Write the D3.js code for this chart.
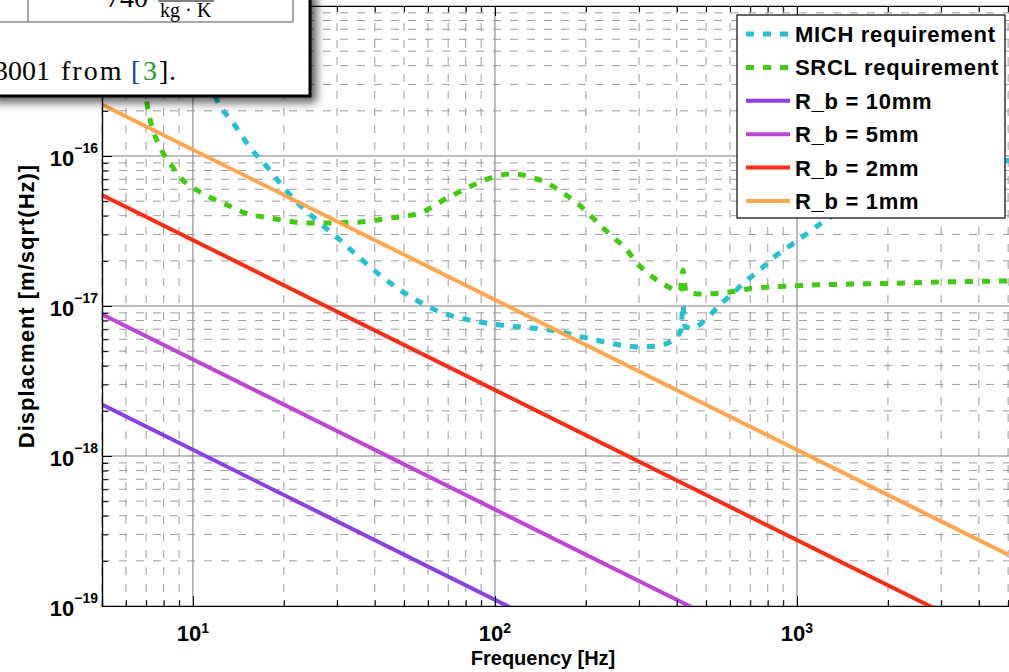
<!DOCTYPE html>
<html>
<head>
<meta charset="utf-8">
<script src="https://cdn.jsdelivr.net/npm/d3@7"></script>
<style>
	body { margin: 0; background: #fff; }
	svg { display: block; font-family: "Liberation Sans", Arial, sans-serif; }
</style>
</head>
<body>
<svg id="chart" width="1009" height="672"></svg>
<script>

// MICH requirement (Hz, m/sqrt(Hz))
var michFreq = [9.41, 12.0, 13.6, 15.4, 17.6, 19.9, 22.6, 26.3, 30.7, 35.7, 41.6, 48.5, 56.5, 65.8, 76.6,
	89.2, 104, 121, 152, 202, 259, 302, 344, 389, 413, 419, 426, 452, 504, 556, 614, 683, 754, 833,
	934, 1008, 1192, 1336, 2193, 3211, 5073];
var michDisp = [1.49e-15, 2.36e-16, 1.66e-16, 1.15e-16, 8.45e-17, 6.21e-17, 4.71e-17, 3.58e-17, 2.75e-17,
	2.09e-17, 1.61e-17, 1.28e-17, 1.06e-17, 9.12e-18, 8.32e-18, 7.82e-18, 7.47e-18, 7.24e-18, 6.92e-18,
	6.12e-18, 5.50e-18, 5.33e-18, 5.41e-18, 5.93e-18, 6.92e-18, 1.02e-17, 7.24e-18, 7.13e-18, 8.32e-18,
	1.02e-17, 1.22e-17, 1.49e-17, 1.74e-17, 2.09e-17, 2.47e-17, 2.75e-17, 3.52e-17, 4.10e-17, 6.41e-17,
	7.82e-17, 9.40e-17];

// SRCL requirement
var srclFreq = [6.58, 7.02, 7.20, 7.78, 8.39, 9.06, 10.3, 13.0, 14.6, 17.1, 19.9, 23.1, 28.4, 35.7, 44.9,
	56.5, 69.4, 78.3, 89.2, 101.5, 114.7, 130.6, 148.7, 168, 186.9, 201.7, 222.6, 245.9, 273.6, 295.3,
	326.1, 365.5, 409.9, 419.3, 429, 484.6, 555.9, 632.9, 726, 832.7, 948, 1498, 2193, 3211, 5073];
var srclDisp = [1.10e-15, 2.36e-16, 1.79e-16, 1.15e-16, 8.98e-17, 7.24e-17, 5.93e-17, 4.71e-17, 4.23e-17,
	3.92e-17, 3.74e-17, 3.58e-17, 3.58e-17, 3.63e-17, 3.86e-17, 4.17e-17, 5.25e-17, 5.93e-17, 6.71e-17,
	7.36e-17, 7.59e-17, 7.24e-17, 6.61e-17, 5.67e-17, 4.86e-17, 4.23e-17, 3.47e-17, 2.88e-17, 2.36e-17,
	1.93e-17, 1.61e-17, 1.38e-17, 1.26e-17, 1.74e-17, 1.24e-17, 1.20e-17, 1.22e-17, 1.26e-17, 1.32e-17,
	1.34e-17, 1.36e-17, 1.40e-17, 1.42e-17, 1.45e-17, 1.47e-17];

// bolt radius lines are straight in log-log, so only the end points
var boltFreq = [5, 5000];
var rb10 = [2.2e-18, 2.2e-21];
var rb5 = [8.8e-18, 8.8e-21];
var rb2 = [5.5e-17, 5.5e-20];
var rb1 = [2.2e-16, 2.2e-19];

var seriesNames = ["MICH requirement", "SRCL requirement", "R_b = 10mm", "R_b = 5mm", "R_b = 2mm", "R_b = 1mm"];
var seriesColors = ["#22c2d2", "#3fcc0c", "#8b40e6", "#c242da", "#ff2c16", "#ffa64c"];

var xTickExp = [1, 2, 3];
var yTickExp = [-19, -18, -17, -16];

var svg = d3.select("#chart");

// plot box (right side runs off the picture)
var boxL = 102, boxR = 1012, boxT = 6, boxB = 606;

var x = d3.scaleLog().domain([5, 5150]).range([boxL, boxR]);
var y = d3.scaleLog().domain([1e-19, 1e-15]).range([boxB, boxT]);

function isDecade(v) {
	var l = Math.log10(v);
	return Math.abs(l - Math.round(l)) < 1e-6;
}

var defs = svg.append("defs");
defs.append("clipPath").attr("id", "plotclip")
	.append("rect")
	.attr("x", boxL).attr("y", boxT)
	.attr("width", boxR - boxL).attr("height", boxB - boxT);

// ****************** grid ***************************
var grid = svg.append("g").attr("class", "grid");

x.ticks().forEach(function (v) {
	var major = isDecade(v);
	grid.append("line")
		.attr("x1", x(v)).attr("x2", x(v))
		.attr("y1", boxT).attr("y2", boxB)
		.attr("stroke", major ? "#7a7a7a" : "#9c9c9c")
		.attr("stroke-width", 1)
		.attr("stroke-dasharray", major ? null : "8,9");
});

y.ticks().forEach(function (v) {
	var major = isDecade(v);
	grid.append("line")
		.attr("x1", boxL).attr("x2", boxR)
		.attr("y1", y(v)).attr("y2", y(v))
		.attr("stroke", major ? "#7a7a7a" : "#9c9c9c")
		.attr("stroke-width", 1)
		.attr("stroke-dasharray", major ? null : "8,9");
});

// ****************** curves ***************************
var plot = svg.append("g").attr("clip-path", "url(#plotclip)");

var smooth = d3.line()
	.x(function (d) { return x(d[0]); })
	.y(function (d) { return y(d[1]); })
	.curve(d3.curveMonotoneX);

var straight = d3.line()
	.x(function (d) { return x(d[0]); })
	.y(function (d) { return y(d[1]); });

var series = [
	{ pts: d3.zip(michFreq, michDisp), dashed: true },
	{ pts: d3.zip(srclFreq, srclDisp), dashed: true },
	{ pts: d3.zip(boltFreq, rb10), dashed: false },
	{ pts: d3.zip(boltFreq, rb5), dashed: false },
	{ pts: d3.zip(boltFreq, rb2), dashed: false },
	{ pts: d3.zip(boltFreq, rb1), dashed: false }
];

series.forEach(function (s, i) {
	plot.append("path")
		.attr("d", s.dashed ? smooth(s.pts) : straight(s.pts))
		.attr("fill", "none")
		.attr("stroke", seriesColors[i])
		.attr("stroke-width", s.dashed ? 5 : 4)
		.attr("stroke-dasharray", s.dashed ? "8,9" : null);
});

// ****************** axes ***************************
var minorX = x.ticks().filter(function (v) { return !isDecade(v); });
var majorX = x.ticks().filter(isDecade);
var minorY = y.ticks().filter(function (v) { return !isDecade(v); });
var majorY = y.ticks().filter(isDecade);

svg.append("g").attr("transform", "translate(0," + boxB + ")")
	.call(d3.axisBottom(x).tickValues(minorX).tickSize(-6).tickFormat(""));
svg.append("g").attr("transform", "translate(0," + boxB + ")")
	.call(d3.axisBottom(x).tickValues(majorX).tickSize(-10).tickFormat(""));
svg.append("g").attr("transform", "translate(0," + boxT + ")")
	.call(d3.axisTop(x).tickValues(minorX).tickSize(-6).tickFormat(""));
svg.append("g").attr("transform", "translate(0," + boxT + ")")
	.call(d3.axisTop(x).tickValues(majorX).tickSize(-10).tickFormat(""));
svg.append("g").attr("transform", "translate(" + boxL + ",0)")
	.call(d3.axisLeft(y).tickValues(minorY).tickSize(-6).tickFormat(""));
svg.append("g").attr("transform", "translate(" + boxL + ",0)")
	.call(d3.axisLeft(y).tickValues(majorY).tickSize(-10).tickFormat(""));

svg.selectAll(".domain").attr("stroke", "#000").attr("stroke-width", 1.2);
svg.selectAll(".tick line").attr("stroke", "#000");

// tick labels with superscripts
xTickExp.forEach(function (e) {
	var t = svg.append("text")
		.attr("x", x(Math.pow(10, e)))
		.attr("y", 641)
		.attr("text-anchor", "middle")
		.attr("font-weight", "bold")
		.attr("font-size", 22);
	t.append("tspan").text("10");
	t.append("tspan").attr("font-size", 14).attr("dy", -8).text(e);
});

yTickExp.forEach(function (e) {
	var t = svg.append("text")
		.attr("x", 98)
		.attr("y", y(Math.pow(10, e)) + 10)
		.attr("text-anchor", "end")
		.attr("font-weight", "bold")
		.attr("font-size", 22);
	t.append("tspan").text("10");
	t.append("tspan").attr("font-size", 14).attr("dy", -13).text("\u2212" + (-e));
});

svg.append("text")
	.attr("x", 543).attr("y", 665)
	.attr("text-anchor", "middle")
	.attr("font-weight", "bold")
	.attr("font-size", 20)
	.text("Frequency [Hz]");

svg.append("text")
	.attr("transform", "translate(34,306) rotate(-90)")
	.attr("text-anchor", "middle")
	.attr("font-weight", "bold")
	.attr("font-size", 22)
	.attr("letter-spacing", 1)
	.text("Displacment [m/sqrt(Hz)]");

// ****************** legend ***************************
var legend = svg.append("g").attr("transform", "translate(737,15)");
legend.append("rect")
	.attr("width", 268).attr("height", 203)
	.attr("fill", "#fff").attr("stroke", "#000").attr("stroke-width", 1.2);

seriesNames.forEach(function (name, i) {
	var ly = 19 + i * 33.4;
	legend.append("line")
		.attr("x1", 9).attr("x2", 53)
		.attr("y1", ly).attr("y2", ly)
		.attr("stroke", seriesColors[i])
		.attr("stroke-width", i < 2 ? 5 : 4)
		.attr("stroke-dasharray", i < 2 ? "8,9" : null);
	legend.append("text")
		.attr("x", 58).attr("y", ly)
		.attr("dy", "0.36em")
		.attr("font-weight", "bold")
		.attr("font-size", 22)
		.attr("letter-spacing", 0.7)
		.text(name);
});

// ****************** pasted page snippet on top ***************************
var shadow = defs.append("filter").attr("id", "shadow")
	.attr("x", "-20%").attr("y", "-20%").attr("width", "150%").attr("height", "150%");
shadow.append("feDropShadow")
	.attr("dx", 5).attr("dy", 5).attr("stdDeviation", 5)
	.attr("flood-color", "#000").attr("flood-opacity", 0.65);

var note = svg.append("g").attr("font-family", "\"Liberation Serif\", \"Times New Roman\", serif");
note.append("rect")
	.attr("x", -10).attr("y", -10).attr("width", 320).attr("height", 106)
	.attr("fill", "#fff").attr("stroke", "#000").attr("stroke-width", 3)
	.attr("filter", "url(#shadow)");

note.append("line").attr("x1", -10).attr("x2", 293).attr("y1", 22).attr("y2", 22)
	.attr("stroke", "#8a8a8a").attr("stroke-width", 1.5);
note.append("line").attr("x1", 28).attr("x2", 28).attr("y1", -10).attr("y2", 22)
	.attr("stroke", "#8a8a8a").attr("stroke-width", 1.5);
note.append("line").attr("x1", 293).attr("x2", 293).attr("y1", -10).attr("y2", 22)
	.attr("stroke", "#8a8a8a").attr("stroke-width", 1.5);
note.append("line").attr("x1", 158).attr("x2", 214).attr("y1", 1).attr("y2", 1)
	.attr("stroke", "#000").attr("stroke-width", 1);

note.append("text").attr("x", 106).attr("y", 7).attr("font-size", 28).text("740");
note.append("text").attr("x", 160).attr("y", 17).attr("font-size", 20).text("kg");
note.append("text").attr("x", 185).attr("y", 17).attr("font-size", 20).text("\u00b7");
note.append("text").attr("x", 197).attr("y", 17).attr("font-size", 20).text("K");

note.append("text").attr("x", 50).attr("y", 80).attr("font-size", 28)
	.attr("text-anchor", "end").text("3001");
note.append("text").attr("x", 61).attr("y", 80).attr("font-size", 28)
	.attr("letter-spacing", 2).text("from");
note.append("text").attr("x", 131).attr("y", 80).attr("font-size", 28).attr("fill", "#1d3f9a").text("[");
note.append("text").attr("x", 143).attr("y", 80).attr("font-size", 28).attr("fill", "#1e9a2a").text("3");
note.append("text").attr("x", 159).attr("y", 80).attr("font-size", 28).text("]");
note.append("text").attr("x", 169).attr("y", 80).attr("font-size", 28).text(".");

</script>
</body>
</html>
